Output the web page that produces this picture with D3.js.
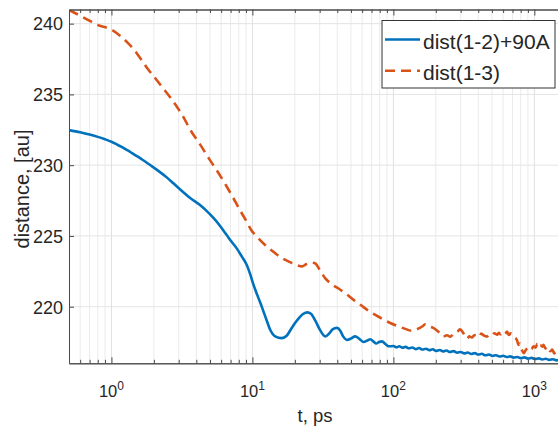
<!DOCTYPE html>
<html>
<head>
<meta charset="utf-8">
<script src="https://cdn.jsdelivr.net/npm/d3@7"></script>
<style>
  html, body { margin: 0; padding: 0; background: #fff; }
  svg { display: block; font-family: "Liberation Sans", Arial, sans-serif; }
</style>
</head>
<body>
<svg id="chart" width="558" height="431"></svg>
<script>
// Time samples (ps) and distances (au) for each trace
const tBlue = [0.5, 0.6, 0.7, 0.8, 0.9, 1.0, 1.2, 1.4, 1.65, 1.88, 2.15, 2.48, 2.75, 3.06, 3.6, 4.25, 4.75, 5.29, 5.9, 6.57,
  7.1, 7.74, 8.4, 9.12, 9.6, 10.1, 10.8, 11.66, 12.5, 13.4, 14.5, 16.1, 17.5, 19, 21, 23, 24.5, 26, 28, 30, 32.9,
  35, 37, 39.8, 42, 44, 46.9, 50, 53.6, 57, 61.6, 65, 68.5, 72, 75.6, 79, 83, 88, 92.5,
  100, 105, 110, 116, 122, 129, 136, 144, 152, 161, 170, 180, 190, 201, 213, 225, 238, 252, 267, 283, 300,
  318, 337, 357, 378, 400, 424, 449, 476, 504, 534, 566, 600, 636, 674, 714, 757, 802, 850, 901, 955, 1012,
  1073, 1137, 1205, 1277, 1354, 1435, 1500];
const dBlue = [232.48, 232.32, 232.16, 232.0, 231.83, 231.66, 231.25, 230.85, 230.4, 230.01, 229.6, 229.12, 228.72, 228.3, 227.7, 227.18, 226.75, 226.27, 225.7, 225.06,
  224.6, 224.12, 223.55, 222.94, 222.35, 221.65, 220.85, 219.99, 219.15, 218.35, 217.9, 217.78, 217.95, 218.5, 219.1, 219.5, 219.6, 219.5, 219.0, 218.4, 217.9,
  218.1, 218.4, 218.5, 218.3, 217.9, 217.65, 217.75, 217.9, 217.75, 217.5, 217.6, 217.7, 217.55, 217.4, 217.5, 217.55, 217.35, 217.2,
  217.22, 217.13, 217.2, 217.1, 217.16, 217.06, 217.12, 217.0, 217.08, 216.97, 217.03, 216.93, 216.99, 216.88, 216.94, 216.84, 216.9, 216.8, 216.86, 216.75, 216.8,
  216.7, 216.76, 216.66, 216.72, 216.62, 216.67, 216.57, 216.62, 216.52, 216.57, 216.48, 216.53, 216.44, 216.49, 216.4, 216.45, 216.36, 216.42, 216.33, 216.38, 216.3,
  216.35, 216.27, 216.32, 216.24, 216.29, 216.21, 216.24];

const tOrange = [0.5, 0.65, 0.79, 1.0, 1.15, 1.29, 1.45, 1.6, 1.79, 2.04, 2.32, 2.6, 2.92, 3.27, 3.6, 4.24, 5.0, 5.7, 6.6, 7.3, 8.15, 9.0, 9.8,
  11, 12.3, 14, 15.8, 18, 20.5, 22.5, 24, 26, 28, 30, 32.9, 37, 42, 47, 52, 59, 66.8, 75, 85, 95, 106, 120, 135,
  150, 160, 168, 180, 192, 210, 226, 240, 253, 265, 275, 287, 297, 315, 333, 345, 360, 375, 392, 405, 420, 440, 460, 480, 500,
  520, 545, 560, 575, 600, 620, 640, 660, 680, 700, 725, 755, 770, 790, 805, 820, 840, 870, 900, 920, 950, 990, 1020, 1050,
  1080, 1100, 1140, 1160, 1200, 1230, 1270, 1300, 1340, 1380, 1420, 1460, 1500];
const dOrange = [240.97, 240.38, 239.92, 239.58, 239.15, 238.7, 238.15, 237.57, 236.87, 236.16, 235.45, 234.82, 234.11, 233.33, 232.55, 231.49, 230.36, 229.5, 228.46, 227.7, 226.83, 226.1, 225.42,
  224.85, 224.36, 223.9, 223.5, 223.2, 222.95, 222.85, 223.0, 223.12, 223.05, 222.6, 222.0, 221.55, 221.2, 220.85, 220.5, 220.1, 219.7, 219.4, 219.1, 218.85, 218.65, 218.45, 218.3,
  218.45, 218.6, 218.75, 218.6, 218.5, 218.2, 217.9, 217.98, 217.88, 218.05, 218.2, 218.28, 218.4, 218.1, 217.75, 217.9, 217.82, 217.98, 218.0, 217.88, 218.1, 217.95, 217.88, 218.02, 217.96,
  218.12, 218.02, 218.15, 218.05, 218.22, 218.08, 218.25, 218.0, 218.12, 218.06, 217.85, 217.6, 217.3, 217.4, 217.05, 216.9, 216.72, 216.95, 217.08, 217.15, 217.0, 217.2, 217.1, 217.38,
  217.15, 217.28, 217.18, 217.3, 217.05, 217.2, 216.95, 216.85, 216.98, 216.7, 216.78, 216.6, 216.5];

const yTicks = [220, 225, 230, 235, 240];
const xDecades = [0, 1, 2, 3];
const seriesNames = ["dist(1-2)+90A", "dist(1-3)"];
const seriesColors = ["#0072BD", "#D95319"];

const svg = d3.select("#chart");
const plotLeft = 69, plotRight = 559.2, plotTop = 9.5, plotBottom = 363.3;

const x = d3.scaleLog().domain([0.5, 1500]).range([plotLeft, plotRight]);
const y = d3.scaleLinear().domain([216, 241]).range([plotBottom, plotTop]);

// minor tick positions 2..9 in each decade
const minorT = [];
for (let d = -1; d <= 3; d++) {
  for (let k = 2; k <= 9; k++) {
    const t = k * Math.pow(10, d);
    if (t > 0.5 && t < 1500) minorT.push(t);
  }
}
const majorT = xDecades.map(d => Math.pow(10, d));

svg.append("defs").append("clipPath").attr("id", "plotclip")
  .append("rect").attr("x", plotLeft).attr("y", plotTop)
  .attr("width", plotRight - plotLeft).attr("height", plotBottom - plotTop);

// grid
const grid = svg.append("g");
grid.selectAll("line.minor").data(minorT).join("line")
  .attr("x1", d => x(d)).attr("x2", d => x(d)).attr("y1", plotTop).attr("y2", plotBottom)
  .attr("stroke", "#ebebeb").attr("stroke-width", 1);
grid.selectAll("line.vmaj").data(majorT).join("line")
  .attr("x1", d => x(d)).attr("x2", d => x(d)).attr("y1", plotTop).attr("y2", plotBottom)
  .attr("stroke", "#e0e0e0").attr("stroke-width", 1);
grid.selectAll("line.hmaj").data(yTicks).join("line")
  .attr("x1", plotLeft).attr("x2", plotRight).attr("y1", d => y(d)).attr("y2", d => y(d))
  .attr("stroke", "#e4e4e4").attr("stroke-width", 1);

// traces
const line = d3.line().x(d => x(d[0])).y(d => y(d[1])).curve(d3.curveMonotoneX);
const plot = svg.append("g").attr("clip-path", "url(#plotclip)");
plot.append("path")
  .attr("d", line(tBlue.map((t, i) => [t, dBlue[i]])))
  .attr("fill", "none").attr("stroke", seriesColors[0]).attr("stroke-width", 2.6)
  .attr("stroke-linejoin", "round");
plot.append("path")
  .attr("d", line(tOrange.map((t, i) => [t, dOrange[i]])))
  .attr("fill", "none").attr("stroke", seriesColors[1]).attr("stroke-width", 2.6)
  .attr("stroke-dasharray", "10,6");

// axes (ticks point inward)
const axisColor = "#4a4a4a";
function styleAxis(g) {
  g.selectAll("path.domain").attr("stroke", axisColor).attr("stroke-width", 1);
  g.selectAll(".tick line").attr("stroke", axisColor);
  g.selectAll("text").remove();
}
svg.append("g").attr("transform", `translate(0,${plotBottom})`)
  .call(d3.axisBottom(x).tickValues(majorT).tickSize(-6).tickSizeOuter(0).tickFormat(""))
  .call(styleAxis);
svg.append("g").attr("transform", `translate(0,${plotBottom})`)
  .call(d3.axisBottom(x).tickValues(minorT).tickSize(-3.5).tickSizeOuter(0).tickFormat(""))
  .call(styleAxis);
svg.append("g").attr("transform", `translate(0,${plotTop})`)
  .call(d3.axisTop(x).tickValues(majorT).tickSize(-6).tickSizeOuter(0).tickFormat(""))
  .call(styleAxis);
svg.append("g").attr("transform", `translate(0,${plotTop})`)
  .call(d3.axisTop(x).tickValues(minorT).tickSize(-3.5).tickSizeOuter(0).tickFormat(""))
  .call(styleAxis);
svg.append("g").attr("transform", `translate(${plotLeft},0)`)
  .call(d3.axisLeft(y).tickValues(yTicks).tickSize(-5).tickSizeOuter(0).tickFormat(""))
  .call(styleAxis);

// tick labels
const textColor = "#262626";
svg.append("g").selectAll("text").data(yTicks).join("text")
  .attr("x", plotLeft - 6).attr("y", d => y(d)).attr("dy", "0.38em")
  .attr("text-anchor", "end").attr("font-size", 18).attr("fill", textColor)
  .text(d => d);
const xl = svg.append("g").selectAll("text").data(xDecades).join("text")
  .attr("x", d => x(Math.pow(10, d))).attr("y", 397)
  .attr("text-anchor", "middle").attr("font-size", 16.5).attr("fill", textColor);
xl.append("tspan").text("10");
xl.append("tspan").attr("dy", -7).attr("font-size", 12).text(d => d);

// axis titles
svg.append("text").attr("x", 315).attr("y", 422).attr("text-anchor", "middle")
  .attr("font-size", 18.5).attr("fill", textColor).text("t, ps");
svg.append("text").attr("transform", "translate(29,189) rotate(-90)")
  .attr("text-anchor", "middle").attr("font-size", 20).attr("fill", textColor)
  .text("distance, [au]");

// legend
const lg = svg.append("g");
lg.append("rect").attr("x", 382).attr("y", 20.5).attr("width", 173).attr("height", 67.5)
  .attr("fill", "#fff").attr("stroke", "#333").attr("stroke-width", 1);
const rowsY = [39.5, 70.7];
seriesNames.forEach((name, i) => {
  lg.append("line").attr("x1", 385).attr("x2", 420).attr("y1", rowsY[i]).attr("y2", rowsY[i])
    .attr("stroke", seriesColors[i]).attr("stroke-width", 2.6)
    .attr("stroke-dasharray", i === 1 ? "10,6" : null);
  lg.append("text").attr("x", 423).attr("y", rowsY[i] + 9).attr("font-size", 21)
    .attr("fill", textColor).text(name);
});
</script>
</body>
</html>
